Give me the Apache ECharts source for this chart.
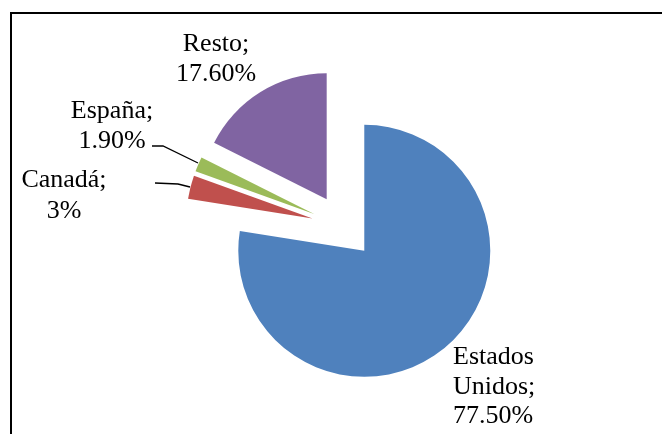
<!DOCTYPE html>
<html>
<head>
<meta charset="utf-8">
<script src="https://cdn.jsdelivr.net/npm/echarts@6/dist/echarts.min.js"></script>
<style>
  html, body { margin: 0; padding: 0; background: #fff; }
  #chart { width: 662px; height: 434px; }
</style>
</head>
<body>
<div id="chart"></div>
<script>
// datos del gráfico
const countries = ['Estados Unidos', 'Canadá', 'España', 'Resto'];
const shares = [77.5, 3, 1.9, 17.6];
const shareLabels = ['77.50%', '3%', '1.90%', '17.60%'];
const sliceColors = ['#4F81BD', '#C0504D', '#9BBB59', '#8064A2'];

// posición de cada etiqueta: [x, y centro del bloque, align, lineHeight]
const labelPos = [
  [453, 387, 'left', 29.5],
  [64, 195.5, 'center', 31],
  [112, 126.5, 'center', 30],
  [216, 59, 'center', 30],
];
// líneas guía (solo Canadá y España)
const leaderLines = [
  null,
  [[155, 183], [178, 184], [190, 187]],
  [[152, 146], [163, 146], [198, 163]],
  null,
];

const labelFont = '26px "Liberation Serif", "Times New Roman", serif';

const myChart = echarts.init(document.getElementById('chart'));

const graphics = [
  // marco (solo borde superior e izquierdo visibles)
  {
    type: 'polyline',
    shape: { points: [[11, 434], [11, 13], [662, 13]] },
    style: { stroke: '#000', lineWidth: 2, fill: null },
    silent: true,
  },
];
countries.forEach((name, i) => {
  const pos = labelPos[i];
  graphics.push({
    type: 'text',
    x: pos[0],
    y: pos[1],
    silent: true,
    style: {
      text: name.replace(' ', '\n') + ';\n' + shareLabels[i],
      font: labelFont,
      fill: '#000',
      align: pos[2],
      verticalAlign: 'middle',
      lineHeight: pos[3],
    },
  });
  if (leaderLines[i]) {
    graphics.push({
      type: 'polyline',
      shape: { points: leaderLines[i] },
      style: { stroke: '#000', lineWidth: 1.3, fill: null },
      silent: true,
    });
  }
});

const option = {
  animation: false,
  graphic: graphics,
  series: [
    {
      type: 'pie',
      center: [343.5, 226.5],
      radius: 126,
      startAngle: 90,
      clockwise: true,
      selectedMode: 'multiple',
      selectedOffset: 32,
      label: { show: false },
      labelLine: { show: false },
      data: countries.map((name, i) => ({
        name: name,
        value: shares[i],
        selected: true,
        itemStyle: { color: sliceColors[i] },
      })),
    },
  ],
};
myChart.setOption(option);
</script>
</body>
</html>
